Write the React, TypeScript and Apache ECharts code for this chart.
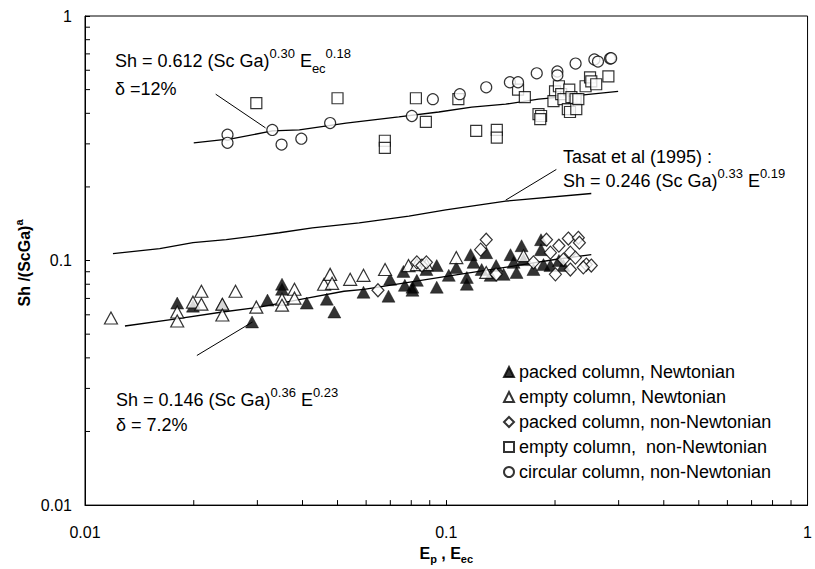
import React, { useEffect, useRef } from 'react';
import * as echarts from 'echarts';

const FONT = 'Arial, "Liberation Sans", sans-serif';

// packed column, Newtonian (filled triangles)
const packedNewtonian: number[][] = [
  [0.018, 0.067], [0.0199, 0.0651], [0.024, 0.0663], [0.029, 0.0561], [0.032, 0.0689],
  [0.0351, 0.08], [0.0351, 0.0763], [0.0411, 0.067], [0.0467, 0.0695], [0.049, 0.0616],
  [0.059, 0.0742], [0.0692, 0.0715], [0.0699, 0.0838], [0.0761, 0.0903], [0.0768, 0.0792],
  [0.0806, 0.0756], [0.0829, 0.083], [0.0806, 0.0778], [0.0881, 0.0919], [0.0941, 0.0954],
  [0.0941, 0.0778], [0.1016, 0.087], [0.1066, 0.0937], [0.114, 0.08], [0.114, 0.0853],
  [0.1168, 0.1057], [0.119, 0.0983], [0.1253, 0.0919], [0.129, 0.1077], [0.1327, 0.087],
  [0.1374, 0.0954], [0.1441, 0.0878], [0.1506, 0.1057], [0.1536, 0.0983], [0.1565, 0.0894],
  [0.1616, 0.115], [0.1636, 0.1009], [0.1743, 0.0919], [0.1829, 0.1217], [0.1829, 0.1108],
  [0.1858, 0.0963], [0.1942, 0.0954], [0.205, 0.1], [0.211, 0.0954]
];

// empty column, Newtonian (open triangles)
const emptyNewtonian: number[][] = [
  [0.0118, 0.0582], [0.018, 0.0616], [0.018, 0.0566], [0.021, 0.0749], [0.0199, 0.0676],
  [0.021, 0.0663], [0.024, 0.0663], [0.024, 0.0599], [0.0261, 0.0749], [0.0298, 0.0645],
  [0.0351, 0.0695], [0.0351, 0.0657], [0.038, 0.0763], [0.038, 0.0702], [0.0459, 0.08],
  [0.0477, 0.0878], [0.0483, 0.0807], [0.0542, 0.0838], [0.059, 0.087], [0.0677, 0.0919],
  [0.0786, 0.0954], [0.0829, 0.0963], [0.0881, 0.0963], [0.1066, 0.1028], [0.129, 0.0894],
  [0.1636, 0.1047]
];

// packed column, non-Newtonian (diamonds)
const packedNonNewtonian: number[][] = [
  [0.0647, 0.0756], [0.0829, 0.0983], [0.0856, 0.0954], [0.0881, 0.0983], [0.129, 0.1217],
  [0.1245, 0.1108], [0.1374, 0.0878], [0.1743, 0.0983], [0.1894, 0.1217], [0.1942, 0.1077],
  [0.205, 0.115], [0.2177, 0.123], [0.232, 0.1239], [0.2336, 0.1183], [0.2205, 0.1077],
  [0.211, 0.1009], [0.2277, 0.1028], [0.2441, 0.0963], [0.252, 0.0954], [0.2395, 0.0937],
  [0.2205, 0.0919], [0.2005, 0.0878]
];

// empty column, non-Newtonian (squares)
const emptyNonNewtonian: number[][] = [
  [0.0298, 0.44], [0.05, 0.461], [0.0676, 0.309], [0.0676, 0.289], [0.0824, 0.461],
  [0.0878, 0.369], [0.108, 0.457], [0.121, 0.339], [0.138, 0.342], [0.138, 0.318],
  [0.158, 0.5], [0.165, 0.466], [0.18, 0.397], [0.183, 0.39], [0.182, 0.379],
  [0.2, 0.492], [0.198, 0.449], [0.205, 0.516], [0.208, 0.479], [0.219, 0.5],
  [0.211, 0.457], [0.222, 0.466], [0.228, 0.457], [0.217, 0.416], [0.22, 0.405],
  [0.229, 0.416], [0.232, 0.457], [0.243, 0.516], [0.25, 0.561], [0.252, 0.54],
  [0.26, 0.526], [0.281, 0.566]
];

// circular column, non-Newtonian (circles)
const circularNonNewtonian: number[][] = [
  [0.0248, 0.327], [0.0248, 0.303], [0.033, 0.342], [0.035, 0.298], [0.0397, 0.315],
  [0.0477, 0.365], [0.0803, 0.39], [0.0918, 0.457], [0.109, 0.479], [0.129, 0.511],
  [0.15, 0.536], [0.158, 0.536], [0.178, 0.583], [0.203, 0.593], [0.203, 0.572],
  [0.228, 0.639], [0.257, 0.664], [0.263, 0.651], [0.284, 0.67], [0.286, 0.672]
];

// fitted / literature correlation lines
const upperFit: number[][] = [
  [0.02, 0.303], [0.0256, 0.315], [0.033, 0.339], [0.0392, 0.342], [0.0528, 0.365],
  [0.0739, 0.3865], [0.0953, 0.405], [0.1176, 0.424], [0.146, 0.436], [0.18, 0.457],
  [0.222, 0.47], [0.299, 0.492]
];
const tasatLine: number[][] = [
  [0.01195, 0.1067], [0.0161, 0.1118], [0.0199, 0.1183], [0.0246, 0.1217], [0.0345, 0.1299],
  [0.0426, 0.136], [0.0574, 0.1425], [0.0788, 0.152], [0.0997, 0.161], [0.146, 0.175],
  [0.252, 0.188]
];
const lowerFit: number[][] = [
  [0.0129, 0.054], [0.0179, 0.0577], [0.024, 0.0616], [0.0304, 0.0645], [0.0412, 0.0702],
  [0.0521, 0.0749], [0.0592, 0.0763], [0.1, 0.0861], [0.15, 0.0945], [0.2, 0.101],
  [0.252, 0.1057]
];

// leader lines from equations to curves
const leaderUpper: number[][] = [[0.023, 0.479], [0.0316, 0.3487]];
const leaderTasat: number[][] = [[0.2017, 0.2358], [0.146, 0.1766]];
const leaderLower: number[][] = [[0.0204, 0.0409], [0.0291, 0.0561]];

// minor tick positions (log axes)
const minorTicks: number[] = [
  0.02, 0.03, 0.04, 0.05, 0.06, 0.07, 0.08, 0.09,
  0.2, 0.3, 0.4, 0.5, 0.6, 0.7, 0.8, 0.9
];

const legendNames = [
  'packed column, Newtonian',
  'empty column, Newtonian',
  'packed column, non-Newtonian',
  'empty column,  non-Newtonian',
  'circular column, non-Newtonian'
];

const AXIS_MIN = 0.01;
const AXIS_MAX = 1;

function fmt(v: number): string {
  return String(+v.toPrecision(3));
}

export default function App() {
  const ref = useRef<HTMLDivElement>(null);

  useEffect(() => {
    if (!ref.current) return;
    const chart = echarts.init(ref.current, undefined, { renderer: 'svg' });

    const hollow = { color: '#fff', borderColor: '#000', borderWidth: 1.2 };
    const richN = { fontSize: 18, lineHeight: 28, fontFamily: FONT, fill: '#000' };
    const richSup = { fontSize: 13, verticalAlign: 'top', fontFamily: FONT, fill: '#000' };
    const richSub = { fontSize: 13, verticalAlign: 'bottom', fontFamily: FONT, fill: '#000' };
    const rich = { n: richN, sup: richSup, sub: richSub };

    const lineSeries = (data: number[][], w = 1.3) => ({
      type: 'line',
      data,
      symbol: 'none',
      silent: true,
      lineStyle: { color: '#000', width: w },
      z: 1
    });

    const option: any = {
      animation: false,
      backgroundColor: '#fff',
      grid: {
        left: 85, right: 5, top: 16, bottom: 59,
        show: true, borderColor: '#000', borderWidth: 1
      },
      xAxis: {
        type: 'log', logBase: 10, min: AXIS_MIN, max: AXIS_MAX,
        name: '{b|E}{s|p}{b| , E}{s|ec}',
        nameLocation: 'middle', nameGap: 33,
        nameTextStyle: {
          rich: {
            b: { fontSize: 16, fontWeight: 'bold', fontFamily: FONT, color: '#000', lineHeight: 22 },
            s: { fontSize: 11, fontWeight: 'bold', fontFamily: FONT, color: '#000', verticalAlign: 'bottom' }
          }
        },
        axisLine: { lineStyle: { color: '#000', width: 1 } },
        axisTick: { inside: true, length: 5, lineStyle: { color: '#000' } },
        axisLabel: { fontSize: 16, fontFamily: FONT, color: '#000', margin: 19, formatter: fmt },
        splitLine: { show: false }
      },
      yAxis: {
        type: 'log', logBase: 10, min: AXIS_MIN, max: AXIS_MAX,
        axisLine: { lineStyle: { color: '#000', width: 1 } },
        axisTick: { inside: true, length: 5, lineStyle: { color: '#000' } },
        axisLabel: { fontSize: 16, fontFamily: FONT, color: '#000', margin: 13, formatter: fmt },
        splitLine: { show: false }
      },
      legend: {
        orient: 'vertical',
        left: 503, top: 362, padding: 0,
        itemWidth: 10, itemHeight: 10, itemGap: 5,
        textStyle: { fontSize: 18, fontFamily: FONT, color: '#000', lineHeight: 20 },
        data: [
          { name: legendNames[0], icon: 'triangle' },
          { name: legendNames[1], icon: 'triangle' },
          { name: legendNames[2], icon: 'diamond' },
          { name: legendNames[3], icon: 'rect' },
          { name: legendNames[4], icon: 'circle' }
        ]
      },
      series: [
        lineSeries(upperFit),
        lineSeries(tasatLine),
        lineSeries(lowerFit),
        lineSeries(leaderUpper, 1),
        lineSeries(leaderTasat, 1),
        lineSeries(leaderLower, 1),
        {
          type: 'scatter', name: legendNames[0], data: packedNewtonian,
          symbol: 'triangle', symbolSize: [13, 12],
          itemStyle: { color: '#000', borderColor: '#000', borderWidth: 0.5 }, z: 3
        },
        {
          type: 'scatter', name: legendNames[1], data: emptyNewtonian,
          symbol: 'triangle', symbolSize: [13, 12], itemStyle: hollow, z: 3
        },
        {
          type: 'scatter', name: legendNames[2], data: packedNonNewtonian,
          symbol: 'diamond', symbolSize: [12, 13], itemStyle: hollow, z: 3
        },
        {
          type: 'scatter', name: legendNames[3], data: emptyNonNewtonian,
          symbol: 'rect', symbolSize: 11, itemStyle: hollow, z: 3
        },
        {
          type: 'scatter', name: legendNames[4], data: circularNonNewtonian,
          symbol: 'circle', symbolSize: 11, itemStyle: hollow, z: 3
        },
        {
          type: 'custom', silent: true, clip: false, z: 4,
          data: minorTicks.map((v) => [v, AXIS_MIN]),
          encode: { x: 0, y: 1 },
          renderItem: (_p: any, api: any) => {
            const p = api.coord([api.value(0), AXIS_MIN]);
            return {
              type: 'line',
              shape: { x1: p[0], y1: p[1], x2: p[0], y2: p[1] - 5 },
              style: { stroke: '#000', lineWidth: 1 }
            };
          }
        },
        {
          type: 'custom', silent: true, clip: false, z: 4,
          data: minorTicks.map((v) => [AXIS_MIN, v]),
          encode: { x: 0, y: 1 },
          renderItem: (_p: any, api: any) => {
            const p = api.coord([AXIS_MIN, api.value(1)]);
            return {
              type: 'line',
              shape: { x1: p[0], y1: p[1], x2: p[0] + 5, y2: p[1] },
              style: { stroke: '#000', lineWidth: 1 }
            };
          }
        }
      ],
      graphic: [
        {
          type: 'text', x: 24, y: 263, rotation: Math.PI / 2, z: 10,
          style: {
            text: '{b|Sh /(ScGa)}{s|a}',
            rich: {
              b: { fontSize: 16, fontWeight: 'bold', fontFamily: FONT, fill: '#000', lineHeight: 22 },
              s: { fontSize: 11, fontWeight: 'bold', fontFamily: FONT, fill: '#000', verticalAlign: 'top' }
            },
            align: 'center', verticalAlign: 'middle'
          }
        },
        {
          type: 'text', x: 115, y: 47, z: 10,
          style: {
            text: '{n|Sh = 0.612 (Sc Ga)}{sup|0.30}{n| E}{sub|ec}{sup|0.18}',
            rich, verticalAlign: 'top', fontSize: 18, fontFamily: FONT, fill: '#000'
          }
        },
        {
          type: 'text', x: 115, y: 89, z: 10,
          style: { text: 'δ =12%', fontSize: 18, fontFamily: FONT, fill: '#000', verticalAlign: 'middle' }
        },
        {
          type: 'text', x: 563, y: 157, z: 10,
          style: { text: 'Tasat et al (1995) :', fontSize: 18, fontFamily: FONT, fill: '#000', verticalAlign: 'middle' }
        },
        {
          type: 'text', x: 563, y: 167, z: 10,
          style: {
            text: '{n|Sh = 0.246 (Sc Ga)}{sup|0.33}{n| E}{sup|0.19}',
            rich, verticalAlign: 'top', fontSize: 18, fontFamily: FONT, fill: '#000'
          }
        },
        {
          type: 'text', x: 116, y: 386, z: 10,
          style: {
            text: '{n|Sh = 0.146 (Sc Ga)}{sup|0.36}{n| E}{sup|0.23}',
            rich, verticalAlign: 'top', fontSize: 18, fontFamily: FONT, fill: '#000'
          }
        },
        {
          type: 'text', x: 116, y: 425, z: 10,
          style: { text: 'δ = 7.2%', fontSize: 18, fontFamily: FONT, fill: '#000', verticalAlign: 'middle' }
        }
      ]
    };

    chart.setOption(option);
    return () => chart.dispose();
  }, []);

  return (
    <div
      ref={ref}
      style={{ position: 'absolute', left: 0, top: 0, width: 815, height: 569, background: '#fff' }}
    />
  );
}
